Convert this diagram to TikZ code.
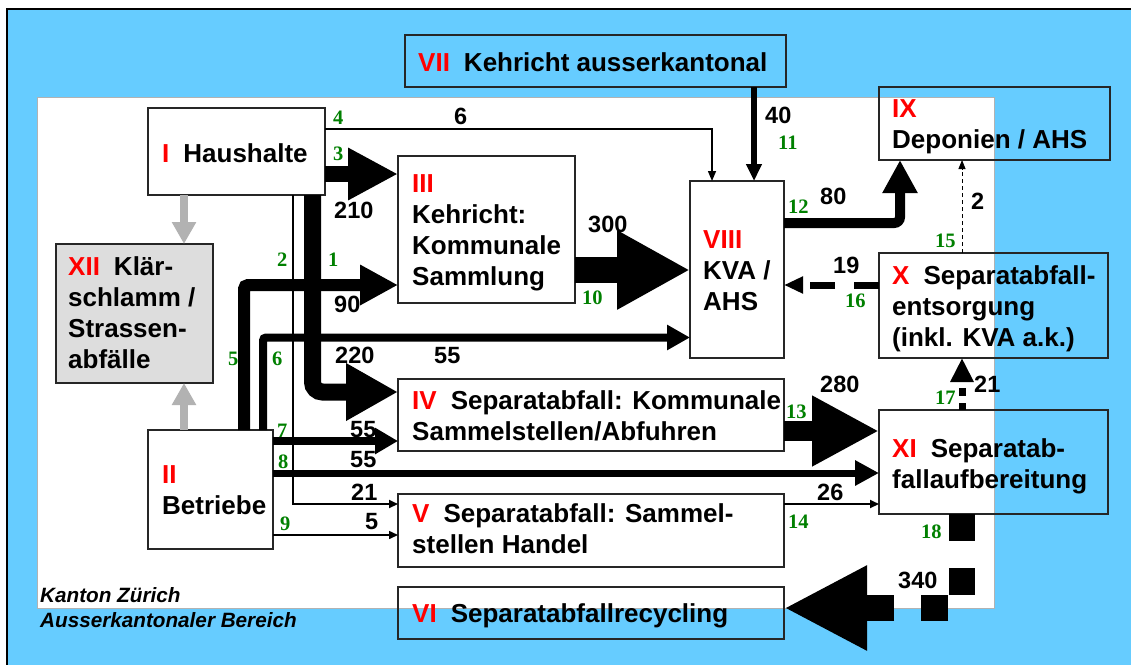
\documentclass[tikz,border=0pt]{standalone}
\usepackage{fontspec}
\setmainfont{Liberation Sans}
\newfontfamily\greenfont{Liberation Serif}
\usetikzlibrary{arrows.meta}
\definecolor{bgblue}{RGB}{102,204,255}
\definecolor{flowgreen}{RGB}{0,128,0}
\definecolor{arrowgray}{RGB}{178,178,178}
\definecolor{boxgray}{RGB}{221,221,221}
\newcommand{\rn}[1]{\textcolor{red}{#1}\hspace{14pt}}
\newcommand{\rnl}[1]{\textcolor{red}{#1}}
\begin{document}
\begin{tikzpicture}[x=1pt,y=-1pt,
  box/.style={draw=black!85, line width=1.5pt, inner sep=0pt, outer sep=0pt, anchor=north west},
  lbl/.style={anchor=base west, inner sep=0pt, align=left, font=\bfseries\fontsize{26}{31}\selectfont},
  num/.style={anchor=base west, inner sep=0pt, font=\bfseries\fontsize{23.5}{28}\selectfont},
  gnum/.style={anchor=base west, inner sep=0pt, text=flowgreen, font=\greenfont\bfseries\fontsize{20.5}{22}\selectfont},
  area/.style={anchor=base west, inner sep=0pt, font=\bfseries\itshape\fontsize{20.7}{25}\selectfont},
  flow/.style n args={3}{draw=black, line width=#1, -{Triangle[length=#2,width=#3]}},
  grayflow/.style={draw=arrowgray, line width=7.5pt, -{Triangle[length=22pt,width=23pt]}}
]
\useasboundingbox (0,0) rectangle (1131,664);
\clip (0,0) rectangle (1131,664);
\fill[white] (0,0) rectangle (1131,664);
\draw[fill=bgblue, line width=2pt] (7,8.5) rectangle (1150,690);
\draw[fill=white, draw=black!30, line width=0.8pt] (37,97) rectangle (994,608);

% boxes
\node[box, minimum width=177pt, minimum height=87pt] (I) at (148,108) {};
\node[box, minimum width=381pt, minimum height=52pt] (VII) at (405,35) {};
\node[box, minimum width=177pt, minimum height=147pt] (III) at (398,156) {};
\node[box, minimum width=94pt, minimum height=177pt] (VIII) at (690,181) {};
\node[box, minimum width=231pt, minimum height=73pt] (IX) at (879,87) {};
\node[box, minimum width=229pt, minimum height=105pt] (X) at (879,253) {};
\node[box, minimum width=229pt, minimum height=104pt] (XI) at (879,410) {};
\node[box, fill=boxgray, minimum width=157pt, minimum height=139pt] (XII) at (56,244) {};
\node[box, minimum width=125pt, minimum height=119pt] (II) at (148,430) {};
\node[box, minimum width=386pt, minimum height=72pt] (IV) at (398,379) {};
\node[box, minimum width=386pt, minimum height=73pt] (V) at (398,494) {};
\node[box, minimum width=386pt, minimum height=52pt] (VI) at (398,587) {};

% box texts (base = baseline of the last line)
\node[lbl] (tI) at (162,162) {\rn{I}Haushalte};
\node[lbl] (tVII) at (418,71) {\rn{VII}Kehricht ausserkantonal};
\node[lbl] (tIII) at (412,285) {\rnl{III}\\Kehricht:\\Kommunale\\Sammlung};
\node[lbl] (tVIII) at (703,310) {\rnl{VIII}\\KVA /\\AHS};
\node[lbl] (tIX) at (892,148) {\rnl{IX}\\Deponien / AHS};
\node[lbl] (tX) at (892,346) {\rn{X}Separatabfall-\\entsorgung\\(inkl. KVA a.k.)};
\node[lbl] (tXI) at (892,488) {\rn{XI}Separatab-\\fallaufbereitung};
\node[lbl] (tXII) at (68,368) {\rn{XII}Klär-\\schlamm /\\Strassen-\\abfälle};
\node[lbl] (tII) at (162,514) {\rnl{II}\\Betriebe};
\node[lbl] (tIV) at (412,440) {\rn{IV}Separatabfall: Kommunale\\Sammelstellen/Abfuhren};
\node[lbl] (tV) at (412,553) {\rn{V}Separatabfall: Sammel-\\stellen Handel};
\node[lbl] (tVI) at (412,622) {\rn{VI}Separatabfallrecycling};

\node[area] (kz) at (40,602) {Kanton Zürich};
\node[area] (ak) at (40,627) {Ausserkantonaler Bereich};

% gray flows
\draw[grayflow] (184,0 |- I.south) -- (184,0 |- XII.north);
\draw[grayflow] (184,0 |- II.north) -- (184,0 |- XII.south);

% flows
\draw[flow={1.5pt}{10pt}{8pt}] (I.east |- 0,129) -| (712,0 |- VIII.north); % 4
\draw[flow={16pt}{50pt}{49pt}] (I.east |- 0,174) -- (III.west |- 0,174); % 3
\draw[flow={17pt}{52pt}{54pt}, rounded corners=10pt] (312.5,0 |- I.south) |- (IV.west |- 0,392); % 1
\draw[flow={2pt}{9pt}{8pt}] (293,0 |- I.south) |- (V.west |- 0,504); % 2
\draw[flow={12pt}{38pt}{38pt}, rounded corners=4pt] (244,0 |- II.north) |- (III.west |- 0,285); % 5
\draw[flow={8pt}{23pt}{24pt}, rounded corners=3pt] (263,0 |- II.north) |- (VIII.west |- 0,337.5); % 6
\draw[flow={8pt}{23pt}{25pt}] (II.east |- 0,441) -- (IV.west |- 0,441); % 7
\draw[flow={7pt}{24pt}{24pt}] (II.east |- 0,473) -- (XI.west |- 0,473); % 8
\draw[flow={1.5pt}{9pt}{8pt}] (II.east |- 0,535) -- (V.west |- 0,535); % 9
\draw[flow={26pt}{73pt}{74pt}] (III.east |- 0,270) -- (VIII.west |- 0,270); % 10
\draw[flow={6pt}{17pt}{15pt}] (754,0 |- VII.south) -- (754,0 |- VIII.north); % 11
\draw[flow={10pt}{33pt}{33pt}, rounded corners=6pt] (VIII.east |- 0,223) -| (900,0 |- IX.south); % 12
\draw[flow={20pt}{67pt}{66pt}] (IV.east |- 0,431) -- (XI.west |- 0,431); % 13
\draw[flow={2pt}{9pt}{8pt}] (V.east |- 0,504) -- (XI.west |- 0,504); % 14
\draw[flow={1pt}{9pt}{7pt}, dash pattern=on 4pt off 3pt] (962,0 |- X.north) -- (962,0 |- IX.south); % 15
\draw[flow={7pt}{19pt}{16pt}, dash pattern=on 25pt off 19pt] (X.west |- 0,285) -- (VIII.east |- 0,285); % 16
\draw[flow={7pt}{24pt}{22pt}, dash pattern=on 7.5pt off 7pt] (962,0 |- XI.north) -- (962,0 |- X.south); % 17
\draw[flow={26pt}{83pt}{79pt}, dash pattern=on 27pt off 27pt] (962,0 |- XI.south) |- (VI.east |- 0,608); % 18

% black numbers
\node[num] (n6) at (454,124) {6};
\node[num] (n210) at (334,218) {210};
\node[num] (n220) at (335,363) {220};
\node[num] (n90) at (334,312) {90};
\node[num] (n55a) at (434,363) {55};
\node[num] (n55b) at (350,437) {55};
\node[num] (n55c) at (350,467) {55};
\node[num] (n21a) at (351,500) {21};
\node[num] (n5) at (365,529) {5};
\node[num] (n300) at (588,232) {300};
\node[num] (n40) at (765,123) {40};
\node[num] (n80) at (820,204) {80};
\node[num] (n2) at (971,209) {2};
\node[num] (n19) at (833,273) {19};
\node[num] (n280) at (820,392) {280};
\node[num] (n26) at (817,500) {26};
\node[num] (n21b) at (974,392) {21};
\node[num] (n340) at (898,588) {340};

% green flow numbers
\node[gnum] (g4) at (333,124) {4};
\node[gnum] (g3) at (333,160) {3};
\node[gnum] (g2) at (277,266) {2};
\node[gnum] (g1) at (328,266) {1};
\node[gnum] (g5) at (228,365) {5};
\node[gnum] (g6) at (272,365) {6};
\node[gnum] (g7) at (277,437) {7};
\node[gnum] (g8) at (278,468) {8};
\node[gnum] (g9) at (280,530) {9};
\node[gnum] (g10) at (582,304) {10};
\node[gnum] (g11) at (778,149) {11};
\node[gnum] (g12) at (788,213) {12};
\node[gnum] (g13) at (786,418) {13};
\node[gnum] (g14) at (788,528) {14};
\node[gnum] (g15) at (935,247) {15};
\node[gnum] (g16) at (845,307) {16};
\node[gnum] (g17) at (935,404) {17};
\node[gnum] (g18) at (921,538) {18};
\end{tikzpicture}
\end{document}
